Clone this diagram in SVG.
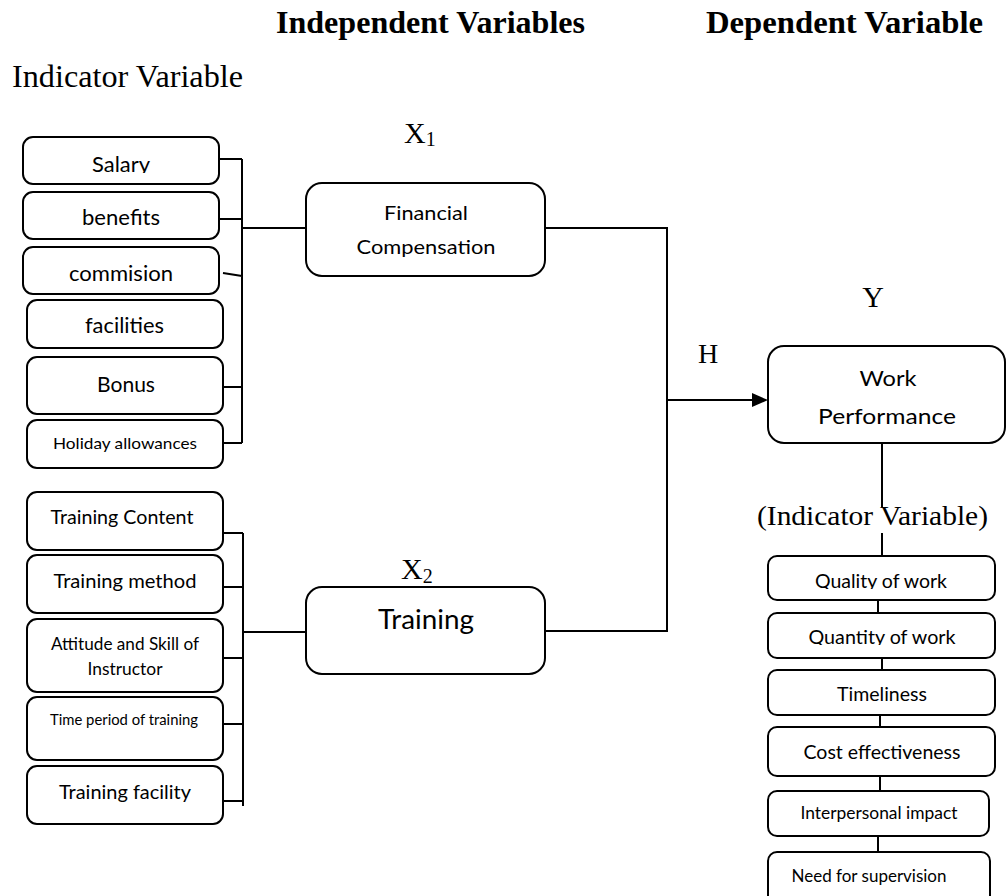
<svg xmlns="http://www.w3.org/2000/svg" width="1006" height="896" viewBox="0 0 1006 896">
<style>
.bx{fill:#fff;stroke:#000;stroke-width:2}
.ln{fill:none;stroke:#000;stroke-width:2}
.s{font-family:Lato,"Liberation Sans",sans-serif;fill:#000;text-anchor:middle}
.t{font-family:"Liberation Serif","Times New Roman",serif;fill:#000}
.hd{font-family:"Liberation Serif","Times New Roman",serif;font-weight:bold;font-size:31px;fill:#000}
</style>
<defs>
<clipPath id="cSal"><rect x="23" y="137" width="196" height="36"/></clipPath>
<clipPath id="cQual"><rect x="768" y="556" width="227" height="33"/></clipPath>
<clipPath id="cQuan"><rect x="768" y="613" width="227" height="32"/></clipPath>
</defs>
<rect width="1006" height="896" fill="#fff"/>
<g id="headers">
<text class="hd" x="276" y="33" textLength="309" lengthAdjust="spacingAndGlyphs">Independent Variables</text>
<text class="hd" x="706" y="33" textLength="277" lengthAdjust="spacingAndGlyphs">Dependent Variable</text>
<text class="t" x="12" y="87" font-size="31" textLength="231" lengthAdjust="spacingAndGlyphs">Indicator Variable</text>
<text class="t" x="404" y="143" font-size="30">X<tspan font-size="20" dy="3">1</tspan></text>
<text class="t" x="401" y="579" font-size="30">X<tspan font-size="20" dy="4">2</tspan></text>
<text class="t" x="873" y="307" font-size="30" text-anchor="middle">Y</text>
<text class="t" x="708" y="363" font-size="28" text-anchor="middle">H</text>
<text class="t" x="757" y="525" font-size="28" textLength="231" lengthAdjust="spacingAndGlyphs">(Indicator Variable)</text>
</g>
<g id="connectors">
<path class="ln" d="M242 159V443M219 159H242M219 219H242M223 273L242 276M223 387H242M223 443H242M242 228H306"/>
<path class="ln" d="M545 228H667V631H545M667 400H754"/>
<polygon points="752,393 768,400 752,407" fill="#000"/>
<path class="ln" d="M243 533V806M223 533H243M223 587H243M223 658H243M223 724H243M223 801H243M243 632H306"/>
<path class="ln" d="M882 443V507M882 533V556M878 600V615M882 658V673M880 715V730M880 776V791M878 836V852"/>
</g>
<g id="salary"><rect class="bx" x="23" y="137" width="196" height="47" rx="10"/><text class="s" x="121" y="172" font-size="21" textLength="58" lengthAdjust="spacingAndGlyphs" clip-path="url(#cSal)">Salary</text></g>
<g id="benefits"><rect class="bx" x="23" y="192" width="196" height="47" rx="10"/><text class="s" x="121" y="225" font-size="21" textLength="78" lengthAdjust="spacingAndGlyphs">benefits</text></g>
<g id="commision"><rect class="bx" x="23" y="247" width="196" height="47" rx="10"/><text class="s" x="121" y="281" font-size="21" textLength="104" lengthAdjust="spacingAndGlyphs">commision</text></g>
<g id="facilities"><rect class="bx" x="27" y="300" width="196" height="48" rx="10"/><text class="s" x="124.5" y="333" font-size="21" textLength="79" lengthAdjust="spacingAndGlyphs">facilities</text></g>
<g id="bonus"><rect class="bx" x="27" y="357" width="196" height="57" rx="10"/><text class="s" x="126" y="392" font-size="21" textLength="58" lengthAdjust="spacingAndGlyphs">Bonus</text></g>
<g id="holiday"><rect class="bx" x="27" y="420" width="196" height="48" rx="10"/><text class="s" x="125" y="449" font-size="16" textLength="144" lengthAdjust="spacingAndGlyphs">Holiday allowances</text></g>
<g id="training-content"><rect class="bx" x="27" y="492" width="196" height="58" rx="10"/><text class="s" x="122" y="524" font-size="20" textLength="143" lengthAdjust="spacingAndGlyphs">Training Content</text></g>
<g id="training-method"><rect class="bx" x="27" y="555" width="196" height="58" rx="10"/><text class="s" x="125" y="588" font-size="20" textLength="143" lengthAdjust="spacingAndGlyphs">Training method</text></g>
<g id="attitude"><rect class="bx" x="27" y="619" width="196" height="73" rx="10"/><text class="s" x="125" y="650" font-size="17" textLength="148" lengthAdjust="spacingAndGlyphs">Attitude and Skill of</text><text class="s" x="125" y="675" font-size="17" textLength="75" lengthAdjust="spacingAndGlyphs">Instructor</text></g>
<g id="time-period"><rect class="bx" x="27" y="697" width="196" height="63" rx="10"/><text class="s" x="124" y="725" font-size="15" textLength="148" lengthAdjust="spacingAndGlyphs">Time period of training</text></g>
<g id="training-facility"><rect class="bx" x="27" y="766" width="196" height="58" rx="10"/><text class="s" x="125" y="799" font-size="20" textLength="132" lengthAdjust="spacingAndGlyphs">Training facility</text></g>
<g id="financial-compensation"><rect class="bx" x="306" y="183" width="239" height="93" rx="16"/><text class="s" x="426" y="220" font-size="20" textLength="84" lengthAdjust="spacingAndGlyphs">Financial</text><text class="s" x="426" y="254" font-size="20" textLength="139" lengthAdjust="spacingAndGlyphs">Compensation</text></g>
<g id="training"><rect class="bx" x="306" y="587" width="239" height="87" rx="16"/><text class="s" x="426" y="629" font-size="26" textLength="96" lengthAdjust="spacingAndGlyphs">Training</text></g>
<g id="work-performance"><rect class="bx" x="768" y="346" width="237" height="97" rx="16"/><text class="s" x="888" y="386" font-size="21" textLength="57" lengthAdjust="spacingAndGlyphs">Work</text><text class="s" x="887" y="424" font-size="21" textLength="138" lengthAdjust="spacingAndGlyphs">Performance</text></g>
<g id="quality"><rect class="bx" x="768" y="556" width="227" height="44" rx="9"/><text class="s" x="881" y="588" font-size="19" textLength="132" lengthAdjust="spacingAndGlyphs" clip-path="url(#cQual)">Quality of work</text></g>
<g id="quantity"><rect class="bx" x="768" y="613" width="227" height="45" rx="9"/><text class="s" x="882" y="644" font-size="20" textLength="147" lengthAdjust="spacingAndGlyphs" clip-path="url(#cQuan)">Quantity of work</text></g>
<g id="timeliness"><rect class="bx" x="768" y="670" width="227" height="45" rx="9"/><text class="s" x="882" y="701" font-size="19" textLength="90" lengthAdjust="spacingAndGlyphs">Timeliness</text></g>
<g id="cost"><rect class="bx" x="768" y="727" width="227" height="49" rx="9"/><text class="s" x="882" y="759" font-size="20" textLength="157" lengthAdjust="spacingAndGlyphs">Cost effectiveness</text></g>
<g id="interpersonal"><rect class="bx" x="768" y="791" width="221" height="45" rx="9"/><text class="s" x="879" y="819" font-size="17" textLength="157" lengthAdjust="spacingAndGlyphs">Interpersonal impact</text></g>
<g id="supervision"><rect class="bx" x="768" y="852" width="222" height="60" rx="9"/><text class="s" x="869" y="882" font-size="17" textLength="155" lengthAdjust="spacingAndGlyphs">Need for supervision</text></g>
</svg>
